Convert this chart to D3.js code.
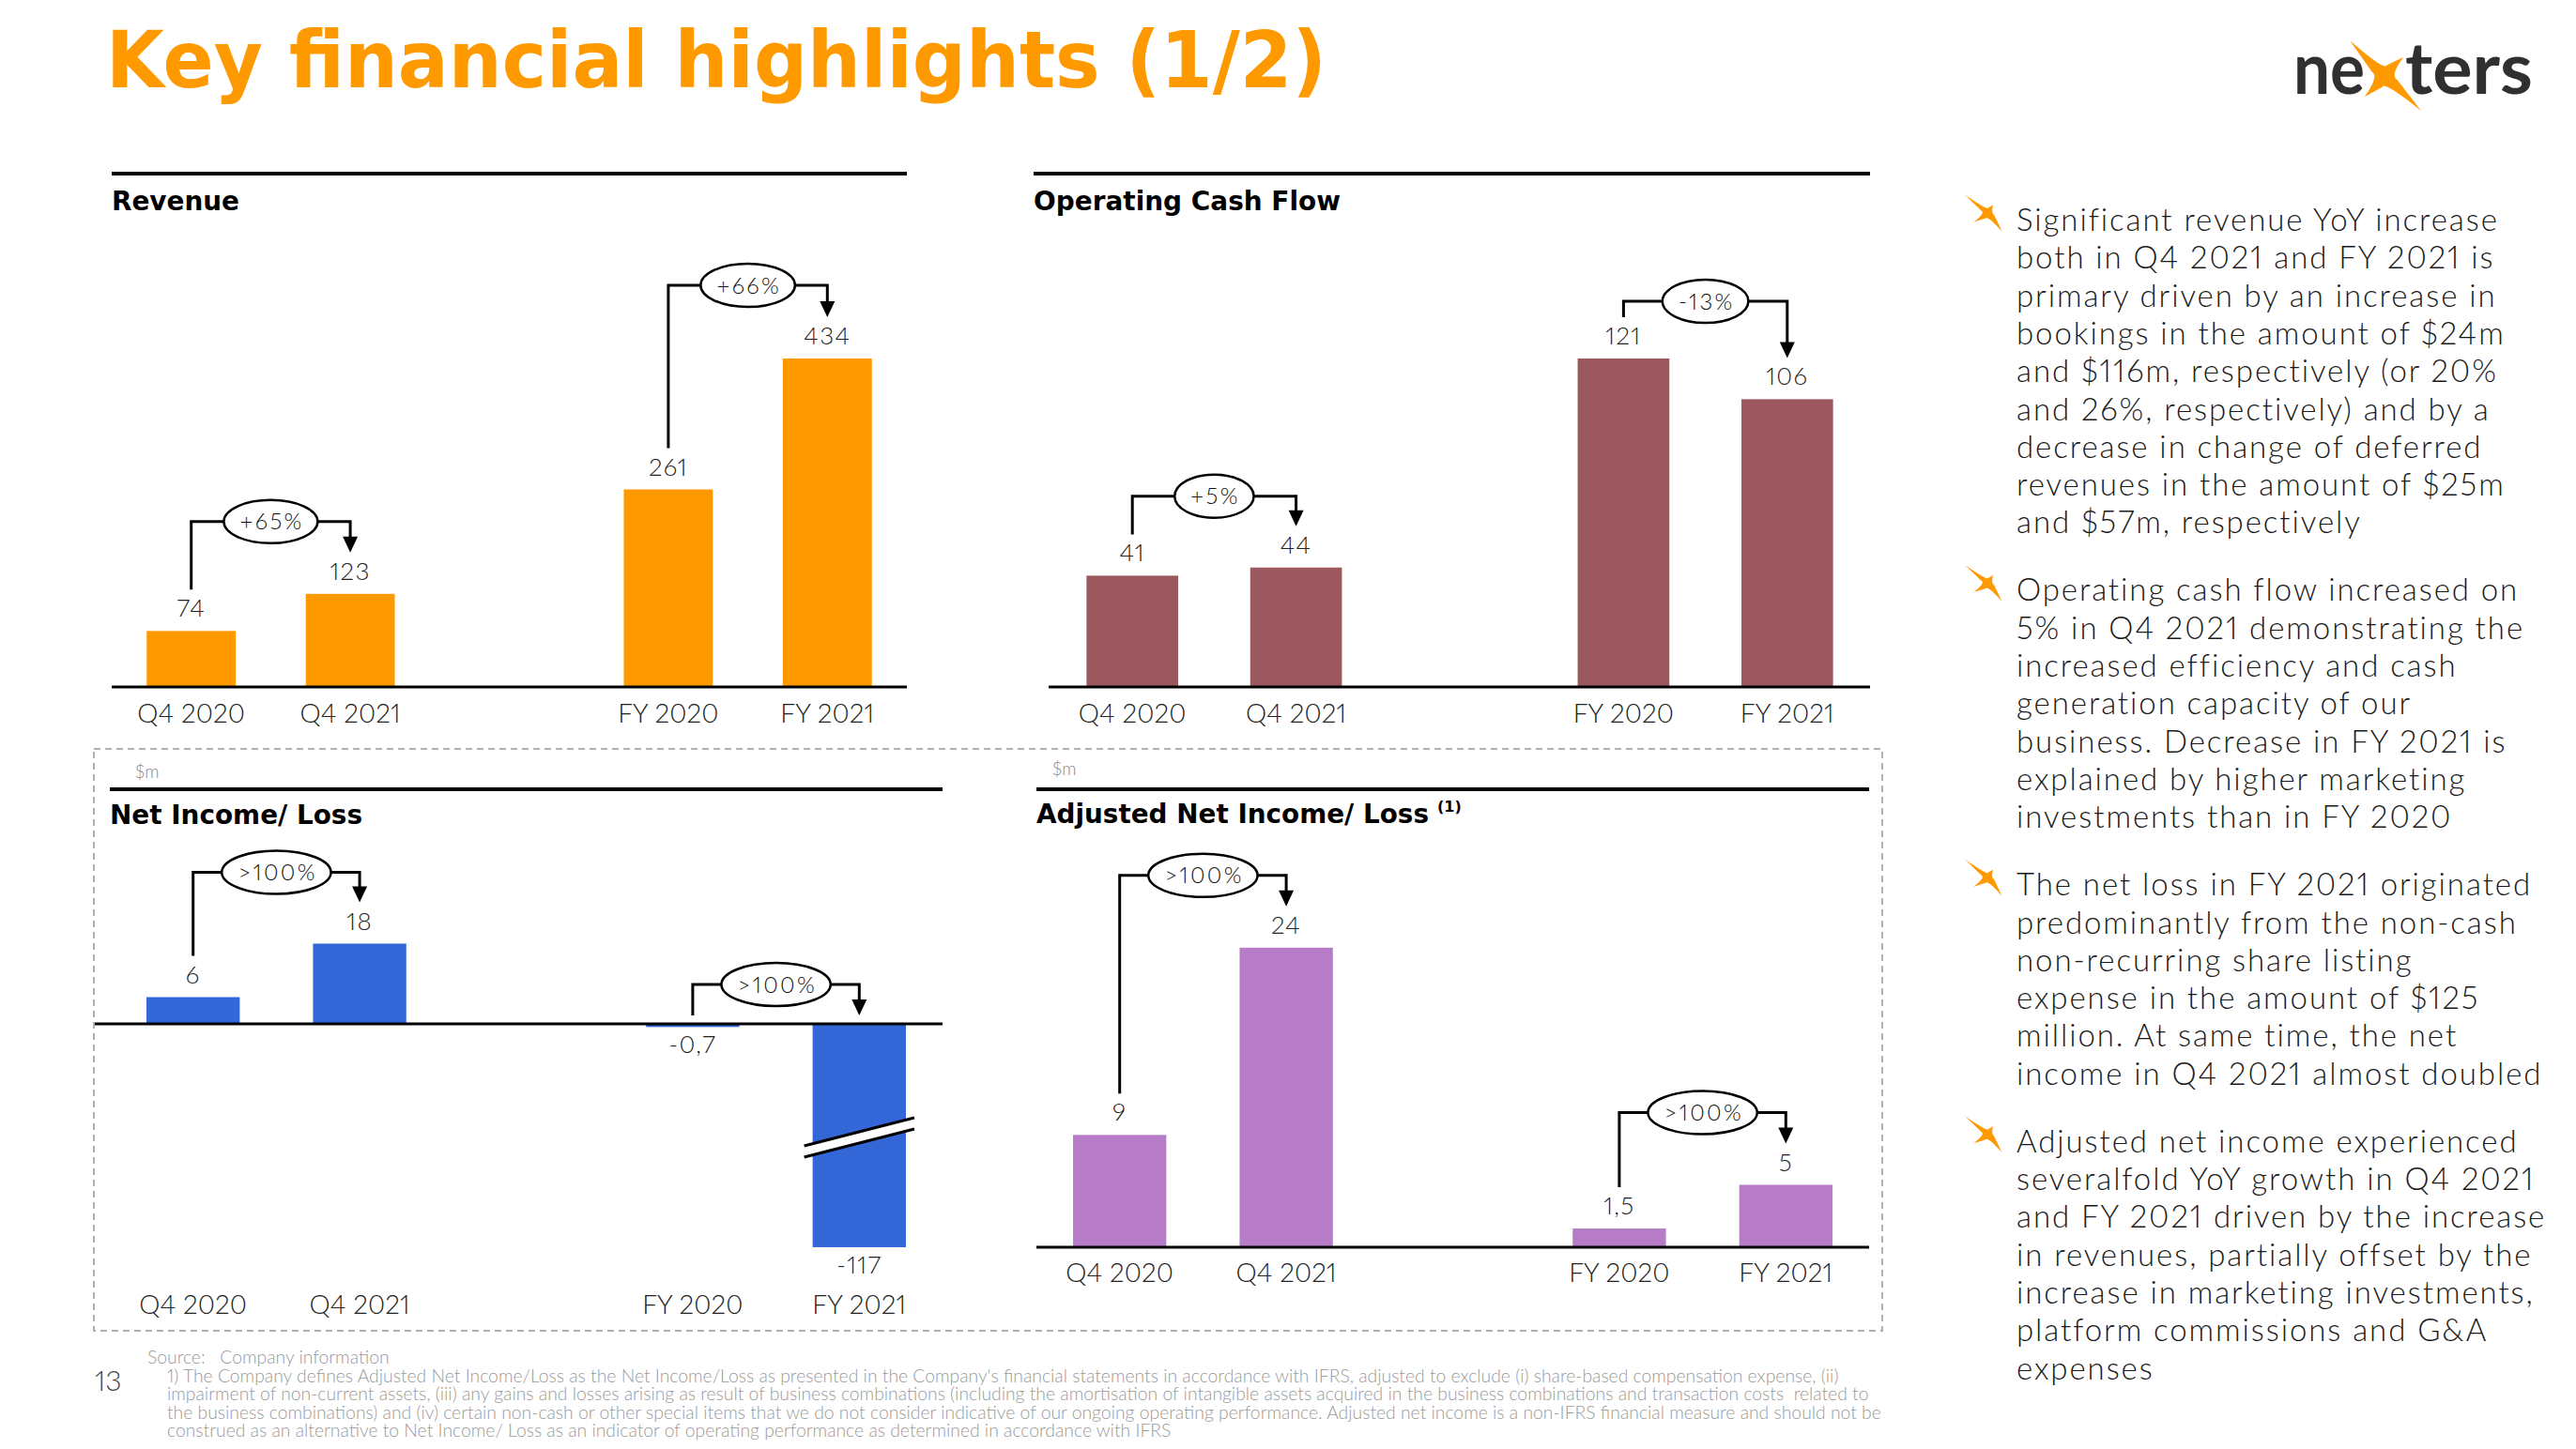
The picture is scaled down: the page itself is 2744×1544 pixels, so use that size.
<!DOCTYPE html>
<html><head><meta charset="utf-8">
<script src="https://cdn.jsdelivr.net/npm/d3@7"></script>
<style>
html,body{margin:0;padding:0;background:#fff;}
svg{display:block;}
text{font-variant-numeric: proportional-nums;}
</style></head>
<body>
<svg id="chart" width="2744" height="1544"></svg>
<script>
// ---------------- DATA ----------------
const categories = ["Q4 2020", "Q4 2021", "FY 2020", "FY 2021"];
const revenue = [74, 123, 261, 434];
const operatingCashFlow = [41, 44, 121, 106];
const netIncome = [6, 18, -0.7, -117];
const adjustedNetIncome = [9, 24, 1.5, 5];
const revenueChange = ["+65%", "+66%"];
const cashFlowChange = ["+5%", "-13%"];
const netIncomeChange = [">100%", ">100%"];
const adjustedChange = [">100%", ">100%"];
const panelTitles = ["Revenue", "Operating Cash Flow", "Net Income/ Loss", "Adjusted Net Income/ Loss"];
const unitLabel = "$m";
const pageTitle = "Key financial highlights (1/2)";
const pageNumber = "13";
const bullets = [
  ["Significant revenue YoY increase",
   "both in Q4 2021 and FY 2021 is",
   "primary driven by an increase in",
   "bookings in the amount of $24m",
   "and $116m, respectively (or 20%",
   "and 26%, respectively) and by a",
   "decrease in change of deferred",
   "revenues in the amount of $25m",
   "and $57m, respectively"],
  ["Operating cash flow increased on",
   "5% in Q4 2021 demonstrating the",
   "increased efficiency and cash",
   "generation capacity of our",
   "business. Decrease in FY 2021 is",
   "explained by higher marketing",
   "investments than in FY 2020"],
  ["The net loss in FY 2021 originated",
   "predominantly from the non-cash",
   "non-recurring share listing",
   "expense in the amount of $125",
   "million. At same time, the net",
   "income in Q4 2021 almost doubled"],
  ["Adjusted net income experienced",
   "severalfold YoY growth in Q4 2021",
   "and FY 2021 driven by the increase",
   "in revenues, partially offset by the",
   "increase in marketing investments,",
   "platform commissions and G&A",
   "expenses"]
];
const sourceLine = "Source:   Company information";
const footnoteLines = [
  "1) The Company defines Adjusted Net Income/Loss as the Net Income/Loss as presented in the Company's financial statements in accordance with IFRS, adjusted to exclude (i) share-based compensation expense, (ii)",
  "impairment of non-current assets, (iii) any gains and losses arising as result of business combinations (including the amortisation of intangible assets acquired in the business combinations and transaction costs  related to",
  "the business combinations) and (iv) certain non-cash or other special items that we do not consider indicative of our ongoing operating performance. Adjusted net income is a non-IFRS financial measure and should not be",
  "construed as an alternative to Net Income/ Loss as an indicator of operating performance as determined in accordance with IFRS"
];

// ---------------- SETUP ----------------
const svg = d3.select("#chart");
const LIGHT = "Lato, 'Open Sans', sans-serif";
const BOLD = "'DejaVu Sans', Lato, sans-serif";
const ORANGE = "#FF9900";

function measure(text, size, family, weight) {
  const t = svg.append("text").attr("font-size", size).attr("font-family", family)
    .attr("font-weight", weight).style("white-space", "pre").text(text);
  const w = t.node().getComputedTextLength();
  t.remove();
  return w;
}
function spacingFor(sample, size, family, weight, target) {
  return (target - measure(sample, size, family, weight)) / sample.length;
}

const fmt = d3.formatLocale({decimal: ",", thousands: ".", grouping: [3], currency: ["$", ""], minus: "-"}).format("~g");

// label styles
const valSize = 26, catSize = 28, pctSize = 24;
const valLS = spacingFor("434", valSize, LIGHT, 300, 50);
const catLS = spacingFor("Q4 2020", catSize, LIGHT, 300, 115);
const pctLS = spacingFor("+65%", pctSize, LIGHT, 300, 68);

// ---------------- PAGE TITLE & LOGO ----------------
svg.append("text").attr("x", 113).attr("y", 93)
  .attr("font-family", BOLD).attr("font-weight", 700).attr("font-size", 84)
  .attr("fill", ORANGE).attr("textLength", 1300).attr("lengthAdjust", "spacingAndGlyphs")
  .text(pageTitle);

function starPath(cx, cy, tips, rIn) {
  const pts = tips.map(([dx, dy]) => ({dx, dy, a: Math.atan2(dy, dx)})).sort((p, q) => p.a - q.a);
  let d = "";
  pts.forEach((p, k) => {
    const q = pts[(k + 1) % pts.length];
    const l0 = Math.hypot(p.dx, p.dy), l1 = Math.hypot(q.dx, q.dy);
    let bx = p.dx / l0 + q.dx / l1, by = p.dy / l0 + q.dy / l1;
    const bl = Math.hypot(bx, by) || 1;
    bx = bx / bl * rIn; by = by / bl * rIn;
    d += (k === 0 ? "M" : "L") + (cx + p.dx) + "," + (cy + p.dy);
    d += "Q" + (cx + bx * 0.6) + "," + (cy + by * 0.6) + " " + (cx + q.dx * 0.12 + bx) + "," + (cy + q.dy * 0.12 + by);
  });
  return d + "Z";
}

// logo
const logo = svg.append("g");
logo.append("text").attr("x", 2443).attr("y", 100).attr("font-family", "Lato, sans-serif")
  .attr("font-weight", 700).attr("font-size", 76).attr("fill", "#303030")
  .attr("textLength", 76).attr("lengthAdjust", "spacingAndGlyphs").text("ne");
logo.append("text").attr("x", 2562).attr("y", 100).attr("font-family", "Lato, sans-serif")
  .attr("font-weight", 700).attr("font-size", 76).attr("fill", "#303030")
  .attr("textLength", 136).attr("lengthAdjust", "spacingAndGlyphs").text("ters");
logo.append("path").attr("d", starPath(2540, 81, [[-37, -38], [20, -20], [39, 37], [-21, 22]], 9))
  .attr("fill", ORANGE);

// ---------------- PANELS ----------------
const panels = [
  {values: revenue, changes: revenueChange, title: panelTitles[0], color: "#FF9900",
   ruleY: 185, ruleX: [119, 966], titleX: 119, titleY: 224, titleW: 136,
   axisY: 732, axisX: [119, 966], band: [119, 966], ppu: 350 / 434, visMin: 0,
   catY: 770, rise: [77, 78]},
  {values: operatingCashFlow, changes: cashFlowChange, title: panelTitles[1], color: "#9B585E",
   ruleY: 185, ruleX: [1101, 1992], titleX: 1101, titleY: 224, titleW: 327,
   axisY: 732, axisX: [1117, 1992], band: [1119, 1991], ppu: 350 / 121, visMin: 0,
   catY: 770, rise: [76, 61]},
  {values: netIncome, changes: netIncomeChange, title: panelTitles[2], color: "#3366D6",
   ruleY: 841, ruleX: [117, 1004], titleX: 117, titleY: 878, titleW: 269,
   axisY: 1091, axisX: [101, 1004], band: [117, 1004], ppu: 4.75, visMin: -50.1,
   catY: 1400, rise: [76, 42]},
  {values: adjustedNetIncome, changes: adjustedChange, title: panelTitles[3], color: "#B67CC8",
   ruleY: 841, ruleX: [1104, 1991], titleX: 1104, titleY: 877, titleW: 418,
   axisY: 1329, axisX: [1104, 1991], band: [1104, 1991], ppu: 13.3, visMin: 0,
   catY: 1366, rise: [77, 77], superscript: "(1)"}
];

// dashed frame around lower panels
svg.append("rect").attr("x", 100).attr("y", 798).attr("width", 1905).attr("height", 620)
  .attr("fill", "none").attr("stroke", "#B0B0B0").attr("stroke-width", 2).attr("stroke-dasharray", "7,5");
svg.append("text").attr("x", 144).attr("y", 829).attr("font-family", LIGHT).attr("font-weight", 300)
  .attr("font-size", 19).attr("fill", "#8a8a8a").text(unitLabel);
svg.append("text").attr("x", 1121).attr("y", 826).attr("font-family", LIGHT).attr("font-weight", 300)
  .attr("font-size", 19).attr("fill", "#8a8a8a").text(unitLabel);

panels.forEach(p => {
  const g = svg.append("g");
  const slots = [categories[0], categories[1], "__gap__", categories[2], categories[3]];
  const x = d3.scaleBand().domain(slots).range(p.band).paddingInner(0.44).paddingOuter(0.22);
  const maxV = d3.max(p.values);
  const y = d3.scaleLinear().domain([p.visMin, maxV])
    .range([p.axisY - p.visMin * p.ppu, p.axisY - maxV * p.ppu]).clamp(true);
  const bw = x.bandwidth();
  const cx = c => x(c) + bw / 2;

  // top rule + title
  g.append("line").attr("x1", p.ruleX[0]).attr("x2", p.ruleX[1]).attr("y1", p.ruleY).attr("y2", p.ruleY)
    .attr("stroke", "#000").attr("stroke-width", 4);
  g.append("text").attr("x", p.titleX).attr("y", p.titleY).attr("font-family", BOLD).attr("font-weight", 700)
    .attr("font-size", 28).attr("fill", "#000").attr("textLength", p.titleW)
    .attr("lengthAdjust", "spacingAndGlyphs").text(p.title);
  if (p.superscript) {
    g.append("text").attr("x", p.titleX + p.titleW + 9).attr("y", p.titleY - 12)
      .attr("font-family", BOLD).attr("font-weight", 700).attr("font-size", 16).text(p.superscript);
  }

  // bars
  const data = categories.map((c, i) => ({c, v: p.values[i]}));
  g.selectAll("rect.bar").data(data).join("rect").attr("class", "bar")
    .attr("x", d => x(d.c)).attr("width", bw)
    .attr("y", d => Math.min(y(d.v), y(0)))
    .attr("height", d => Math.max(1, Math.abs(y(d.v) - y(0))))
    .attr("fill", p.color);

  // break marks for values beyond the visible range
  data.filter(d => d.v < p.visMin).forEach(d => {
    const xc = cx(d.c), ym = (y(0) + y(d.v)) / 2 + 2;
    const hw = bw / 2 + 9, tilt = 15, gap = 6;
    g.append("path")
      .attr("d", `M${xc - hw},${ym - gap + tilt}L${xc + hw},${ym - gap - tilt}L${xc + hw},${ym + gap - tilt}L${xc - hw},${ym + gap + tilt}Z`)
      .attr("fill", "#fff");
    [-gap, gap].forEach(o => g.append("line")
      .attr("x1", xc - hw).attr("y1", ym + o + tilt).attr("x2", xc + hw).attr("y2", ym + o - tilt)
      .attr("stroke", "#000").attr("stroke-width", 3));
  });

  // axis line
  g.append("line").attr("x1", p.axisX[0]).attr("x2", p.axisX[1]).attr("y1", y(0)).attr("y2", y(0))
    .attr("stroke", "#000").attr("stroke-width", 3);

  // value labels
  g.selectAll("text.val").data(data).join("text").attr("class", "val")
    .attr("x", d => cx(d.c)).attr("y", d => d.v >= 0 ? y(d.v) - 15 : y(d.v) + 28)
    .attr("text-anchor", "middle").attr("font-family", LIGHT).attr("font-weight", 300)
    .attr("font-size", valSize).attr("letter-spacing", valLS).attr("fill", "#222")
    .text(d => fmt(d.v));

  // category labels
  g.selectAll("text.cat").data(categories).join("text").attr("class", "cat")
    .attr("x", c => cx(c)).attr("y", p.catY)
    .attr("text-anchor", "middle").attr("font-family", LIGHT).attr("font-weight", 300)
    .attr("font-size", catSize).attr("letter-spacing", catLS).attr("fill", "#222")
    .text(c => c);

  // change brackets
  [[0, 1], [2, 3]].forEach(([i0, i1], k) => {
    const va = p.values[i0], vb = p.values[i1];
    const xa = cx(categories[i0]), xb = cx(categories[i1]);
    const topA = y(Math.max(va, 0)), topB = y(Math.max(vb, 0));
    const by = Math.min(topA, topB) - p.rise[k];
    const startY = va > 0 ? topA - 44 : y(0) - 9;
    const tipY = vb > 0 ? topB - 44 : y(0) - 9;
    const headH = 17, headW = 16;
    g.append("path").attr("d", `M${xa},${startY}V${by}H${xb}V${tipY - headH + 1}`)
      .attr("fill", "none").attr("stroke", "#000").attr("stroke-width", 3);
    g.append("path").attr("d", `M${xb - headW / 2},${tipY - headH}L${xb + headW / 2},${tipY - headH}L${xb},${tipY}Z`)
      .attr("fill", "#000");
    const label = p.changes[k];
    const tw = measure(label, pctSize, LIGHT, 300) + pctLS * label.length;
    const ex = (xa + xb) / 2;
    g.append("ellipse").attr("cx", ex).attr("cy", by).attr("rx", tw / 2 + 16).attr("ry", 23)
      .attr("fill", "#fff").attr("stroke", "#000").attr("stroke-width", 2.5);
    g.append("text").attr("x", ex + pctLS / 2).attr("y", by + 8.5).attr("text-anchor", "middle")
      .attr("font-family", LIGHT).attr("font-weight", 300).attr("font-size", pctSize)
      .attr("letter-spacing", pctLS).attr("fill", "#111").text(label);
  });
});

// ---------------- BULLETS ----------------
const bSize = 33;
const bLS = spacingFor(bullets[0][0], bSize, LIGHT, 300, 513);
const lineStep = 40.3, bulletGap = 31.7;
let by = 246;
bullets.forEach(lines => {
  svg.append("path")
    .attr("d", starPath(2118, by - 19, [[-25, -19.5], [5, -8.5], [14.5, 19.5], [-15.5, 9.5]], 4.5))
    .attr("fill", ORANGE);
  lines.forEach((ln, i) => {
    svg.append("text").attr("x", 2148).attr("y", by + i * lineStep)
      .attr("font-family", LIGHT).attr("font-weight", 300).attr("font-size", bSize)
      .attr("letter-spacing", bLS).attr("fill", "#1a1a1a").text(ln);
  });
  by += lines.length * lineStep + bulletGap;
});

// ---------------- FOOTER ----------------
svg.append("text").attr("x", 101).attr("y", 1482).attr("font-family", LIGHT).attr("font-weight", 300)
  .attr("font-size", 30).attr("fill", "#444").text(pageNumber);
const fnSize = 16 * 1826 / measure(footnoteLines[2], 16, LIGHT, 300);
svg.append("text").attr("x", 157).attr("y", 1453).attr("font-family", LIGHT).attr("font-weight", 300)
  .attr("font-size", fnSize).attr("fill", "#9a9a9a").style("white-space", "pre").text(sourceLine);
footnoteLines.forEach((ln, i) => {
  svg.append("text").attr("x", 178).attr("y", 1473 + i * 19.3).attr("font-family", LIGHT).attr("font-weight", 300)
    .attr("font-size", fnSize).attr("fill", "#9a9a9a").style("white-space", "pre").text(ln);
});
</script>
</body></html>
